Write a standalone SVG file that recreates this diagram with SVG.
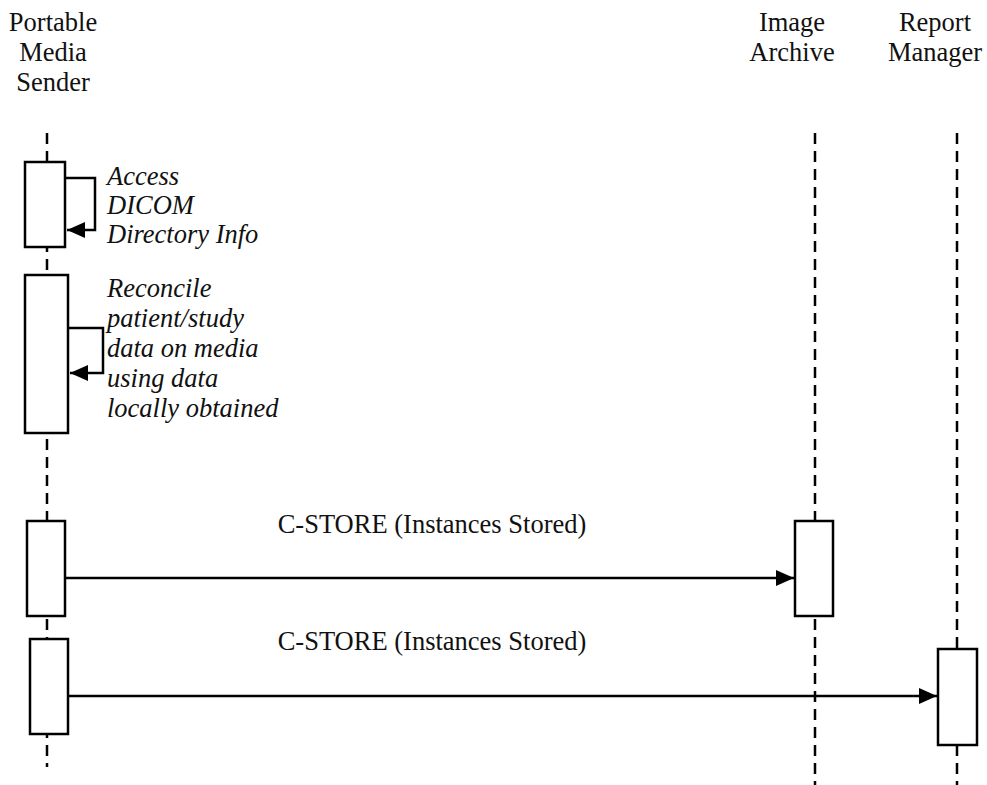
<svg xmlns="http://www.w3.org/2000/svg" width="987" height="785" viewBox="0 0 987 785">
<defs>
<style>
.hdr{font-family:"Liberation Serif","Times New Roman",serif;font-size:26.5px;fill:#111;text-anchor:middle}
.note{font-family:"Liberation Serif","Times New Roman",serif;font-size:26.5px;font-style:italic;fill:#111}
.msg{font-family:"Liberation Serif","Times New Roman",serif;font-size:26.5px;fill:#111;text-anchor:middle}
.life{stroke:#000;stroke-width:2.5;stroke-dasharray:11 7;fill:none}
.act{fill:#fff;stroke:#000;stroke-width:2.5}
.conn{stroke:#000;stroke-width:2.5;fill:none}
</style>
<marker id="ah" markerWidth="18" markerHeight="16" refX="18" refY="8" orient="auto" markerUnits="userSpaceOnUse">
<path d="M0,0 L18,8 L0,16 Z" fill="#000"/>
</marker>
</defs>
<rect width="987" height="785" fill="#fff"/>
<g id="sender">
<text class="hdr" x="53" y="31">Portable</text>
<text class="hdr" x="53" y="61">Media</text>
<text class="hdr" x="53" y="91">Sender</text>
<line class="life" x1="47" y1="133" x2="47" y2="767"/>
<rect class="act" x="25" y="162" width="40" height="85"/>
<rect class="act" x="25" y="275" width="43" height="158"/>
<rect class="act" x="27" y="521" width="38" height="95"/>
<rect class="act" x="30" y="639" width="38" height="95"/>
</g>
<g id="archive">
<text class="hdr" x="792" y="31">Image</text>
<text class="hdr" x="792" y="61">Archive</text>
<line class="life" x1="815" y1="133" x2="815" y2="785"/>
<rect class="act" x="795" y="521" width="38" height="95"/>
</g>
<g id="report">
<text class="hdr" x="935" y="31">Report</text>
<text class="hdr" x="935" y="61">Manager</text>
<line class="life" x1="957" y1="133" x2="957" y2="785"/>
<rect class="act" x="938" y="649" width="39" height="96"/>
</g>
<g id="connectors">
<polyline class="conn" points="66,178 95,178 95,230 67,230" marker-end="url(#ah)"/>
<polyline class="conn" points="69,328 103,328 103,373 70,373" marker-end="url(#ah)"/>
<line class="conn" x1="65" y1="578" x2="794" y2="578" marker-end="url(#ah)"/>
<line class="conn" x1="68" y1="696" x2="937" y2="696" marker-end="url(#ah)"/>
</g>
<g id="labels">
<text class="note" x="107" y="185">Access</text>
<text class="note" x="107" y="214">DICOM</text>
<text class="note" x="107" y="243">Directory Info</text>
<text class="note" x="107" y="297">Reconcile</text>
<text class="note" x="107" y="327">patient/study</text>
<text class="note" x="107" y="357">data on media</text>
<text class="note" x="107" y="387">using data</text>
<text class="note" x="107" y="417">locally obtained</text>
<text class="msg" x="432" y="533">C-STORE (Instances Stored)</text>
<text class="msg" x="432" y="650">C-STORE (Instances Stored)</text>
</g>
</svg>
